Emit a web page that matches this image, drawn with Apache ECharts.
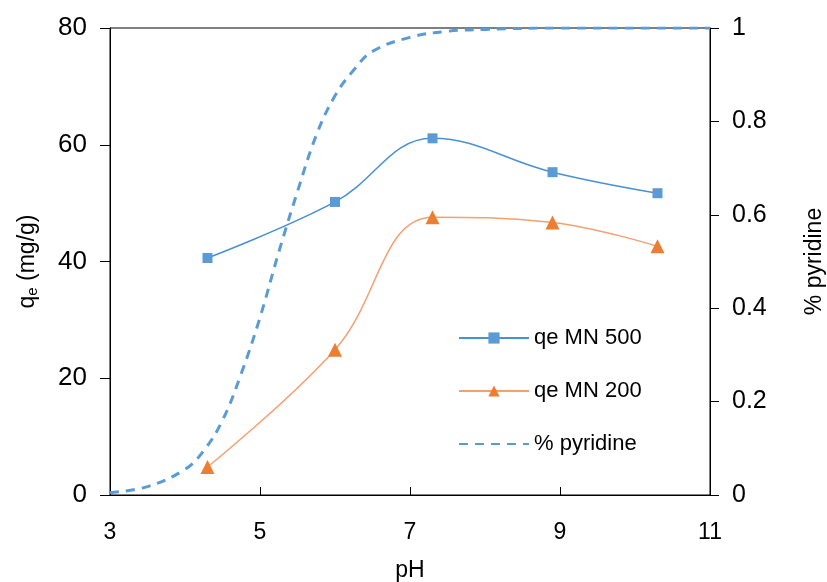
<!DOCTYPE html>
<html>
<head>
<meta charset="utf-8">
<script src="https://cdn.jsdelivr.net/npm/echarts@6/dist/echarts.min.js"></script>
<style>
  html, body { margin: 0; padding: 0; background: #fff; }
  #chart { width: 827px; height: 582px; }
</style>
</head>
<body>
<div id="chart"></div>
<script>
// pH values of measured points
const phPoints = [4.3, 6.0, 7.3, 8.9, 10.3];
// qe (mg/g) for MN 500
const qeMN500 = [40.6, 50.2, 61.1, 55.3, 51.7];
// qe (mg/g) for MN 200
const qeMN200 = [4.8, 24.9, 47.6, 46.7, 42.6];
// % pyridine curve
const pyridinePH = [3.0, 3.5, 4.0, 4.25, 4.5, 4.75, 5.0, 5.25, 5.5, 5.75, 6.0, 6.25, 6.5, 7.0, 7.5, 8.0, 9.0, 10.0, 11.0];
const pyridineFrac = [0.005, 0.018, 0.055, 0.095, 0.16, 0.26, 0.38, 0.52, 0.65, 0.77, 0.855, 0.91, 0.95, 0.98, 0.993, 0.997, 1.0, 1.0, 1.0];
const seriesNames = ['qe MN 500', 'qe MN 200', '% pyridine'];

const zip = (xs, ys) => xs.map((x, i) => [x, ys[i]]);
const FONT = '"Liberation Sans", Arial, sans-serif';

const chart = echarts.init(document.getElementById('chart'), null, { renderer: 'canvas' });
chart.setOption({
  animation: false,
  backgroundColor: '#fff',
  textStyle: { fontFamily: FONT, color: '#000' },
  grid: {
    left: 110, right: 117, top: 28, bottom: 87,
    containLabel: false,
    outerBoundsMode: 'none',
    show: true, borderColor: '#000', borderWidth: 1
  },
  legend: {
    orient: 'vertical',
    left: 453,
    top: 322,
    itemWidth: 70,
    itemHeight: 14,
    itemGap: 31,
    textStyle: { fontFamily: FONT, fontSize: 22, color: '#000' },
    data: [
      { name: seriesNames[0] },
      { name: seriesNames[1] },
      { name: seriesNames[2], itemStyle: { opacity: 0 } }
    ]
  },
  xAxis: {
    type: 'value',
    min: 3, max: 11, interval: 2,
    name: 'pH',
    nameLocation: 'middle',
    nameGap: 64,
    nameTextStyle: { fontFamily: FONT, fontSize: 23, color: '#000' },
    axisLine: { lineStyle: { color: '#000', width: 1 } },
    axisTick: { inside: true, length: 8, lineStyle: { color: '#000' } },
    axisLabel: { fontFamily: FONT, fontSize: 23, color: '#000', margin: 26 },
    splitLine: { show: false }
  },
  yAxis: [
    {
      type: 'value',
      min: 0, max: 80, interval: 20,
      name: '{a|q}{b|e}{a| (mg/g)}',
      nameLocation: 'middle',
      nameGap: 70,
      nameRotate: 90,
      nameTextStyle: {
        fontFamily: FONT, color: '#000',
        rich: {
          a: { fontFamily: FONT, fontSize: 23, color: '#000' },
          b: { fontFamily: FONT, fontSize: 15, color: '#000', verticalAlign: 'bottom', padding: [9, 0, 0, 0] }
        }
      },
      axisLine: { show: true, lineStyle: { color: '#000', width: 1 } },
      axisTick: { show: true, length: 10, lineStyle: { color: '#000' } },
      axisLabel: { fontFamily: FONT, fontSize: 26, color: '#000', margin: 23 },
      splitLine: { show: false }
    },
    {
      type: 'value',
      min: 0, max: 1, interval: 0.2,
      position: 'right',
      name: '% pyridine',
      nameLocation: 'middle',
      nameGap: 93,
      nameRotate: 90,
      nameTextStyle: { fontFamily: FONT, fontSize: 23, color: '#000' },
      axisLine: { show: true, lineStyle: { color: '#000', width: 1 } },
      axisTick: { show: true, length: 9, lineStyle: { color: '#000' } },
      axisLabel: { fontFamily: FONT, fontSize: 25, color: '#000', margin: 22 },
      splitLine: { show: false }
    }
  ],
  series: [
    {
      name: seriesNames[0],
      type: 'line',
      yAxisIndex: 0,
      data: zip(phPoints, qeMN500),
      smooth: 0.4,
      symbol: 'rect',
      symbolSize: 10,
      itemStyle: { color: '#5B9BD5' },
      lineStyle: { color: '#4A90D4', width: 1.5 },
      z: 3
    },
    {
      name: seriesNames[1],
      type: 'line',
      yAxisIndex: 0,
      data: zip(phPoints, qeMN200),
      smooth: 0.4,
      symbol: 'triangle',
      symbolSize: 14,
      itemStyle: { color: '#ED7D31' },
      lineStyle: { color: '#F4A070', width: 1.5 },
      z: 3
    },
    {
      name: seriesNames[2],
      type: 'line',
      yAxisIndex: 1,
      data: zip(pyridinePH, pyridineFrac),
      smooth: 0.4,
      symbol: 'none',
      itemStyle: { color: '#5B9BD5' },
      lineStyle: { color: '#5B9BD5', width: 3, type: [9, 7] },
      z: 2
    }
  ]
});
</script>
</body>
</html>
